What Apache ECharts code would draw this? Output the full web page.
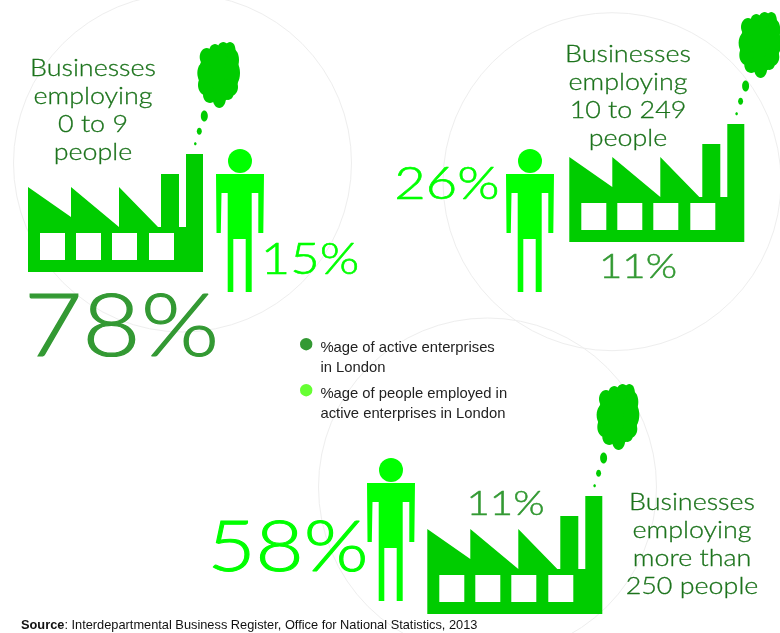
<!DOCTYPE html>
<html>
<head>
<meta charset="utf-8">
<style>html,body{margin:0;padding:0;background:#fff}#chart{width:780px;height:633px}</style>
<script src="https://cdn.jsdelivr.net/npm/echarts@6/dist/echarts.min.js"></script>
</head>
<body>
<div id="chart"></div>
<script>
// Share of active London enterprises and of the people they employ, by size band
const sizeBands = [
  ['Businesses', 'employing', '0 to 9', 'people'],
  ['Businesses', 'employing', '10 to 249', 'people'],
  ['Businesses', 'employing', 'more than', '250 people']
];
const enterpriseShares = [78, 11, 11];
const employmentShares = [15, 26, 58];
const legendLabels = [
  '%age of active enterprises\nin London',
  '%age of people employed in\nactive enterprises in London'
];
const sourceNote = ': Interdepartmental Business Register, Office for National Statistics, 2013';

const LABEL_FONT = 'Lato';
const FACTORY = '#00cc00', PERSON = '#00ff00', DARK = '#339933', BAND_TEXT = '#1c731c';

// Placement of each infographic panel; labels are [x, y, font size, horizontal stretch]
const factoryOffsets = [[0, 0], [541.3, -30], [399.3, 342]];
const personOffsets = [[0, 0], [290, 0], [151, 309]];
const enterpriseLabels = [[121.5, 328, 86, 1.17], [638, 267.5, 33, 1.22], [505.5, 504, 33, 1.22]];
const employmentLabels = [[310, 260, 43, 1.18], [447, 184.5, 46, 1.18], [288, 548, 71, 1.17]];
const bandAnchors = [[93, 68.5], [628, 54.5], [692, 502.5]];
const backdropRings = [[182.5, 163], [612, 181.7], [487.5, 487]];

const factoryOutline = [
  [28, 272], [28, 187], [71, 217], [71, 187], [119, 227], [119, 187], [158, 227],
  [161, 227], [161, 174], [179, 174], [179, 227], [186, 227], [186, 154], [203, 154], [203, 272]
];
const factoryWindows = [40, 76, 112, 149];
const personOutline = [
  [216, 174], [264, 174], [263.3, 233], [258.3, 233], [258.3, 193], [251.7, 193],
  [251.7, 292], [245.7, 292], [245.7, 239], [233.3, 239], [233.3, 292], [227.7, 292],
  [227.7, 193], [221.5, 193], [220.8, 233], [216.5, 233]
];
const smokeLobes = [
  [218.5, 75, 20, 27], [206.7, 57, 7, 9], [215, 52, 6, 8], [223.3, 50, 6, 8], [230, 50, 5.5, 8],
  [233, 60, 6, 11], [232, 73, 8, 14], [231, 87, 7, 9], [228, 92, 6, 8], [219.3, 99, 6.5, 9],
  [210, 95, 7, 8], [205, 85, 7, 10], [204.5, 73, 7.2, 11], [204.3, 116, 3.5, 5.5],
  [199.3, 131.3, 2.5, 3.5], [195.3, 143.7, 1.3, 1.5]
];

function percentText(pos, value, color) {
  return {
    type: 'text', x: pos[0], y: pos[1], scaleX: pos[3],
    style: {
      text: value + '%', fill: color, stroke: color, lineWidth: pos[2] * 0.014,
      font: '300 ' + pos[2] + 'px ' + LABEL_FONT,
      align: 'center', verticalAlign: 'middle'
    }
  };
}

function renderEnterprise(params, api) {
  const i = params.dataIndex;
  const [dx, dy] = factoryOffsets[i];
  const parts = [{ type: 'polygon', shape: { points: factoryOutline }, style: { fill: FACTORY } }];
  factoryWindows.forEach(x => parts.push({
    type: 'rect', shape: { x, y: 233, width: 25, height: 27 }, style: { fill: '#fff' }
  }));
  smokeLobes.forEach(l => parts.push({
    type: 'ellipse', shape: { cx: l[0], cy: l[1], rx: l[2], ry: l[3] }, style: { fill: FACTORY }
  }));
  const lines = sizeBands[i].map((line, n) => ({
    type: 'text', x: bandAnchors[i][0], y: bandAnchors[i][1] + n * 27.8, scaleX: 1.12,
    style: {
      text: line, fill: BAND_TEXT, stroke: BAND_TEXT, lineWidth: 0.3,
      font: '300 24px ' + LABEL_FONT,
      align: 'center', verticalAlign: 'middle'
    }
  }));
  return {
    type: 'group',
    children: [
      { type: 'group', x: dx, y: dy, children: parts },
      percentText(enterpriseLabels[i], api.value(0), DARK)
    ].concat(lines)
  };
}

function renderPerson(params, api) {
  const i = params.dataIndex;
  const [dx, dy] = personOffsets[i];
  return {
    type: 'group',
    children: [
      {
        type: 'group', x: dx, y: dy,
        children: [
          { type: 'circle', shape: { cx: 240, cy: 161, r: 12 }, style: { fill: PERSON } },
          { type: 'polygon', shape: { points: personOutline }, style: { fill: PERSON } }
        ]
      },
      percentText(employmentLabels[i], api.value(0), PERSON)
    ]
  };
}

// A dot with an empty lower part, so the marker sits beside the first text line
const legendDot = 'path://M6.2 0A6.2 6.2 0 1 1 6.2 12.4A6.2 6.2 0 1 1 6.2 0ZM6.2 40L6.2 40Z';

const chart = echarts.init(document.getElementById('chart'), null, { renderer: 'canvas' });
chart.setOption({
  animation: false,
  backgroundColor: '#fff',
  legend: {
    left: 295, top: 333, orient: 'vertical', itemGap: 6,
    itemWidth: 12.4, itemHeight: 40, selectedMode: false,
    textStyle: { fontFamily: '"Liberation Sans"', fontSize: 14.8, color: '#222', lineHeight: 20, padding: [0, 0, 0, 3] },
    data: [
      { name: legendLabels[0], icon: legendDot, itemStyle: { color: DARK } },
      { name: legendLabels[1], icon: legendDot, itemStyle: { color: '#66ff33' } }
    ]
  },
  graphic: [
    ...backdropRings.map(c => ({
      type: 'circle', z: -1, shape: { cx: c[0], cy: c[1], r: 169 },
      style: { fill: 'none', stroke: '#eeeeee', lineWidth: 1 }
    })),
    {
      type: 'text', x: 21, y: 625, z: 5,
      style: {
        text: '{b|Source}' + sourceNote, font: '12.8px "Liberation Sans"', fill: '#111', verticalAlign: 'middle',
        rich: { b: { font: 'bold 12.8px "Liberation Sans"', fill: '#111' } }
      }
    }
  ],
  series: [
    {
      type: 'custom', name: legendLabels[0], coordinateSystem: 'none', silent: true,
      data: enterpriseShares.map(v => [v]), renderItem: renderEnterprise
    },
    {
      type: 'custom', name: legendLabels[1], coordinateSystem: 'none', silent: true,
      data: employmentShares.map(v => [v]), renderItem: renderPerson
    }
  ]
});
</script>
</body>
</html>
